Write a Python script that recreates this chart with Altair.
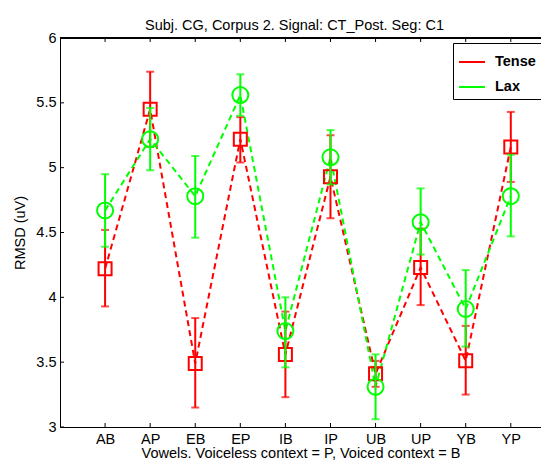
import altair as alt
import pandas as pd

vowels = ["AB", "AP", "EB", "EP", "IB", "IP", "UB", "UP", "YB", "YP"]
tense_mean = [4.22, 5.45, 3.49, 5.22, 3.56, 4.93, 3.41, 4.23, 3.51, 5.16]
tense_lo = [3.93, 5.16, 3.15, 5.04, 3.23, 4.61, 3.31, 3.94, 3.25, 4.89]
tense_hi = [4.52, 5.74, 3.84, 5.39, 3.89, 5.25, 3.51, 4.53, 3.78, 5.43]
lax_mean = [4.67, 5.22, 4.78, 5.56, 3.74, 5.08, 3.31, 4.58, 3.91, 4.78]
lax_lo = [4.39, 4.98, 4.46, 5.40, 3.46, 4.87, 3.06, 4.33, 3.62, 4.47]
lax_hi = [4.95, 5.46, 5.09, 5.72, 4.00, 5.29, 3.56, 4.84, 4.21, 5.10]
y_ticks = [3, 3.5, 4, 4.5, 5, 5.5, 6]
series_names = ["Tense", "Lax"]
series_colors = ["#ff0000", "#00ff00"]

rows = []
for i, v in enumerate(vowels):
    rows.append(dict(idx=i + 1, vowel=v, series="Tense", mean=tense_mean[i], lo=tense_lo[i], hi=tense_hi[i]))
for i, v in enumerate(vowels):
    rows.append(dict(idx=i + 1, vowel=v, series="Lax", mean=lax_mean[i], lo=lax_lo[i], hi=lax_hi[i]))
df = pd.DataFrame(rows)
ticks_x = pd.DataFrame({"idx": list(range(1, len(vowels) + 1))})
ticks_y = pd.DataFrame({"v": y_ticks})

W, H = 481, 389
FONT = "Liberation Sans"
FS = 14.5

label_expr = "[" + ",".join("'%s'" % v for v in vowels) + "][datum.value - 1]"

xscale = alt.Scale(domain=[0, 10.67], nice=False, zero=False)
yscale = alt.Scale(domain=[3, 6], nice=False, zero=False)
cscale = alt.Scale(domain=series_names, range=series_colors)

xaxis = alt.Axis(values=list(range(1, 11)), labelExpr=label_expr, ticks=False, domain=True,
                 domainColor="black", domainWidth=1,
                 grid=False, labelFont=FONT, labelFontSize=FS, labelColor="black", labelPadding=5,
                 title="Vowels. Voiceless context = P, Voiced context = B", titleFont=FONT,
                 titleFontSize=FS, titleFontWeight="normal", titleColor="black", titlePadding=1)
yaxis = alt.Axis(values=y_ticks, ticks=False, domain=True, domainColor="black", domainWidth=1,
                 grid=False, labelFont=FONT,
                 labelFontSize=FS, labelColor="black", labelPadding=4,
                 title="RMSD (uV)", titleFont=FONT, titleFontSize=FS, titleFontWeight="normal",
                 titleColor="black", titlePadding=8, labelExpr="format(datum.value, '')")

base = alt.Chart(df)
X = alt.X("idx:Q", scale=xscale, axis=xaxis)
Y = alt.Y("mean:Q", scale=yscale, axis=yaxis)

lines = base.mark_line(strokeWidth=2, strokeDash=[6, 4]).encode(
    x=X, y=Y, color=alt.Color("series:N", scale=cscale, legend=None), detail="series:N"
)

def series_layers(name, shape, size):
    b = base.transform_filter(alt.datum.series == name)
    bars = b.mark_rule(strokeWidth=2).encode(
        x=alt.X("idx:Q", scale=xscale), y=alt.Y("lo:Q", scale=yscale), y2="hi:Q",
        color=alt.Color("series:N", scale=cscale, legend=None),
    )
    caps = b.transform_fold(["lo", "hi"], as_=["k", "val"]).mark_tick(
        orient="horizontal", size=8, thickness=2
    ).encode(
        x=alt.X("idx:Q", scale=xscale), y=alt.Y("val:Q", scale=yscale),
        color=alt.Color("series:N", scale=cscale, legend=None),
    )
    pts = b.mark_point(shape=shape, size=size, strokeWidth=2, filled=False, opacity=1).encode(
        x=alt.X("idx:Q", scale=xscale), y=alt.Y("mean:Q", scale=yscale),
        color=alt.Color("series:N", scale=cscale, legend=None),
    )
    return [bars, caps, pts]

legend_layer = base.mark_rule(strokeWidth=2, opacity=0).encode(
    x=alt.X("idx:Q", scale=xscale), y=alt.Y("mean:Q", scale=yscale),
    color=alt.Color("series:N", scale=cscale, sort=series_names,
                    legend=alt.Legend(title=None, orient="none", legendX=393, legendY=5,
                                      strokeColor="black", fillColor="white", padding=5,
                                      symbolType="stroke", symbolStrokeWidth=2, symbolSize=676,
                                      symbolOpacity=1,
                                      labelFont=FONT, labelFontSize=FS, labelFontWeight="bold",
                                      labelColor="black", labelOffset=9, rowPadding=4)),
)

tick_color = "black"
bx = alt.Chart(ticks_x).mark_rule(color=tick_color, strokeWidth=1).encode(
    x=alt.X("idx:Q", scale=xscale), y=alt.value(H), y2=alt.value(H - 4))
tx = alt.Chart(ticks_x).mark_rule(color=tick_color, strokeWidth=1).encode(
    x=alt.X("idx:Q", scale=xscale), y=alt.value(0), y2=alt.value(4))
ly = alt.Chart(ticks_y).mark_rule(color=tick_color, strokeWidth=1).encode(
    y=alt.Y("v:Q", scale=yscale), x=alt.value(0), x2=alt.value(4))
top_line = alt.Chart(ticks_y).mark_rule(color="black", strokeWidth=1).encode(
    x=alt.value(0), x2=alt.value(W), y=alt.value(0))

layers = [lines] + series_layers("Tense", "square", 169) + series_layers("Lax", "circle", 256) + [bx, tx, ly, top_line, legend_layer]

chart = alt.layer(*layers).resolve_legend(color="independent").properties(
    width=W, height=H,
    title=alt.Title("Subj. CG, Corpus 2. Signal: CT_Post. Seg: C1", font=FONT, fontSize=FS,
                    fontWeight="normal", color="black", offset=6, dx=-6, dy=9),
    autosize=alt.AutoSizeParams(type="none"),
    padding={"left": 52, "top": 30, "right": 0, "bottom": 35},
).configure_view(stroke=None).configure(background="white")

chart.save("out.html", embed_options={"renderer": "svg", "actions": False})
